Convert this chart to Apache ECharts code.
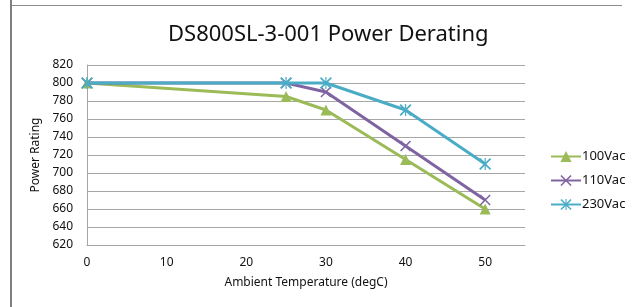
<!DOCTYPE html>
<html>
<head>
<meta charset="utf-8">
<script src="https://cdn.jsdelivr.net/npm/echarts@6/dist/echarts.min.js"></script>
<style>
    html, body {margin: 0; padding: 0; background: #fff;}
    #chart {width: 633px; height: 307px;}
</style>
</head>
<body>
<div id="chart"></div>
<script>
//环境温度 / 功率
const temps = [0, 25, 30, 40, 50];
const seriesNames = ['100Vac', '110Vac', '230Vac'];
const vac100 = [800, 785, 770, 715, 660];
const vac110 = [800, 800, 790, 730, 670];
const vac230 = [800, 800, 800, 770, 710];
const colors = ['#9bbb59', '#8064a2', '#4bacc6'];

const fontFamily = '"Noto Sans", sans-serif';
const xSymbol = 'path://M0,1 L1,0 L5,4 L9,0 L10,1 L6,5 L10,9 L9,10 L5,6 L1,10 L0,9 L4,5 Z';
const starSymbol = 'path://M0,1 L1,0 L5,4 L9,0 L10,1 L6,5 L10,9 L9,10 L5,6 L1,10 L0,9 L4,5 Z M4.5,0 L5.5,0 L5.5,10 L4.5,10 Z';
const symbols = ['triangle', xSymbol, starSymbol];
const symbolSizes = [11, 11, 12];

let series = [vac100, vac110, vac230].map(function (vals, i) {
    return {
        type: 'line',
        name: seriesNames[i],
        data: vals.map((v, j) => [temps[j], v]),
        symbol: symbols[i],
        symbolSize: symbolSizes[i],
        showAllSymbol: true,
        lineStyle: {width: 3, color: colors[i]},
        itemStyle: {color: colors[i]},
        z: 2 + i
    };
});

let chart = echarts.init(document.getElementById('chart'));
chart.setOption({
    animation: false,
    textStyle: {fontFamily: fontFamily},
    title: {
        text: 'DS800SL-3-001 Power Derating',
        left: 163,
        top: 19,
        textStyle: {fontSize: 22, fontWeight: 'normal', color: '#111', fontFamily: fontFamily}
    },
    graphic: [
        {type: 'line', shape: {x1: 11, y1: 0, x2: 11, y2: 307}, style: {stroke: '#7f7f7f', lineWidth: 2}},
        {type: 'line', shape: {x1: 12, y1: 5.5, x2: 622, y2: 5.5}, style: {stroke: '#8c8c8c', lineWidth: 1}}
    ],
    grid: {left: 87, right: 108, top: 65, bottom: 62},
    legend: {
        orient: 'vertical',
        left: 545,
        top: 145,
        itemWidth: 30,
        itemHeight: 14,
        itemGap: 11,
        textStyle: {fontSize: 13, color: '#111', padding: [0, 0, 0, -4]},
        data: seriesNames
    },
    xAxis: {
        type: 'value',
        min: 0,
        max: 55,
        interval: 10,
        name: 'Ambient Temperature (degC)',
        nameLocation: 'middle',
        nameGap: 32,
        nameTextStyle: {fontSize: 12, color: '#111'},
        axisLine: {show: true, lineStyle: {color: '#a6a6a6', width: 1}},
        axisTick: {show: false},
        splitLine: {show: false},
        axisLabel: {fontSize: 12, color: '#111', margin: 12, showMaxLabel: false}
    },
    yAxis: {
        type: 'value',
        min: 620,
        max: 820,
        interval: 20,
        name: 'Power Rating',
        nameLocation: 'middle',
        nameGap: 39,
        nameTextStyle: {fontSize: 12, color: '#111'},
        axisLine: {show: true, lineStyle: {color: '#a6a6a6', width: 1}},
        axisTick: {show: false},
        splitLine: {lineStyle: {color: '#a6a6a6', width: 1}},
        axisLabel: {fontSize: 12, color: '#111', margin: 14}
    },
    series: series
});
</script>
</body>
</html>
